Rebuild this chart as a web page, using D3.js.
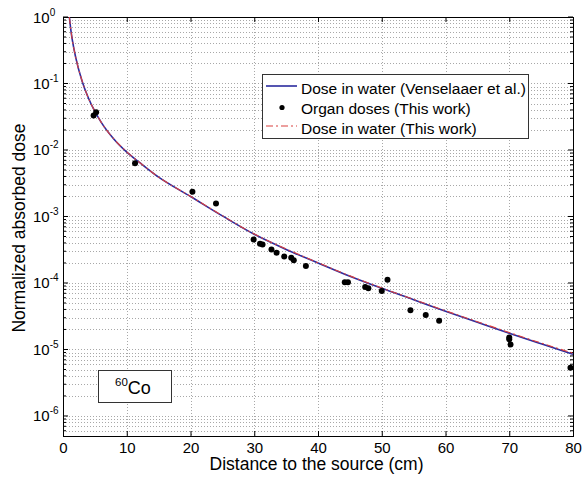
<!DOCTYPE html>
<html>
<head>
<meta charset="utf-8">
<script src="https://cdn.jsdelivr.net/npm/d3@7"></script>
<style>
  body { margin: 0; background: #fff; }
  text { font-family: "Liberation Sans", Arial, sans-serif; fill: #000; }
</style>
</head>
<body>
<div id="chart"></div>
<script>
// distance (cm) where the water curves were read
const curveX = [1, 1.25, 1.5, 2, 3, 4, 5, 6, 8, 10, 12, 15, 20, 25, 30, 35, 40, 45, 50, 55, 60, 65, 70, 75, 80];
const doseVenselaar = [1.0, 0.62, 0.43, 0.245, 0.108, 0.06, 0.038, 0.026, 0.0145, 0.0093, 0.0065, 0.0039, 0.0020,
  0.00102, 0.00054, 0.00032, 0.0002, 0.000126, 0.000083, 0.000056, 0.0000376, 0.0000257, 0.0000176, 0.0000122, 0.0000085];
const doseThisWork = [1.0, 0.62, 0.43, 0.246, 0.109, 0.06, 0.0382, 0.026, 0.0146, 0.0094, 0.0065, 0.0039, 0.00201,
  0.00103, 0.000545, 0.000325, 0.000202, 0.000128, 0.000084, 0.0000568, 0.0000382, 0.0000262, 0.000018, 0.0000125, 0.0000088];

// organ doses (scatter)
const organX = [4.8, 5.2, 11.3, 20.3, 24.0, 29.9, 30.9, 31.3, 32.7, 33.5, 34.7, 35.8, 36.2, 38.1,
  44.2, 44.7, 47.4, 47.9, 50.0, 50.9, 54.5, 56.9, 59.0, 70.0, 70.0, 70.2, 79.6];
const organY = [0.033, 0.037, 0.0063, 0.00235, 0.00157, 0.00045, 0.00039, 0.00038, 0.00032, 0.000285, 0.00025,
  0.00024, 0.00022, 0.00018, 0.000103, 0.000103, 0.000087, 0.000083, 0.000076, 0.000112, 0.000039, 0.000033,
  0.000027, 0.0000152, 0.0000143, 0.0000119, 0.0000053];

const xTicks = [0, 10, 20, 30, 40, 50, 60, 70, 80];
const yExponents = [0, -1, -2, -3, -4, -5, -6];
const legendLabels = ["Dose in water (Venselaaer et al.)", "Organ doses (This work)", "Dose in water (This work)"];

const W = 582, H = 478;
const pLeft = 63, pRight = 573, pTop = 17, pBottom = 436;

const svg = d3.select("#chart").append("svg")
  .attr("width", W).attr("height", H);

svg.append("rect").attr("width", W).attr("height", H).attr("fill", "#fff");

const x = d3.scaleLinear().domain([0, 80]).range([pLeft, pRight]);
const y = d3.scaleLog().domain([5e-7, 1]).range([pBottom, pTop]);

// grid
const minorVals = [];
for (let e = -7; e <= -1; e++) {
  for (let m = 1; m <= 9; m++) {
    const v = m * Math.pow(10, e);
    if (v > 5e-7 && v < 1) minorVals.push(v);
  }
}
const grid = svg.append("g")
  .attr("stroke", "#a8a8a8")
  .attr("stroke-width", 1)
  .attr("stroke-dasharray", "1,2");

grid.selectAll("line.h").data(minorVals).enter().append("line")
  .attr("x1", pLeft).attr("x2", pRight)
  .attr("y1", d => Math.round(y(d)) + 0.5).attr("y2", d => Math.round(y(d)) + 0.5);

grid.selectAll("line.v").data(xTicks.slice(1, -1)).enter().append("line")
  .attr("y1", pTop).attr("y2", pBottom)
  .attr("x1", d => Math.round(x(d)) + 0.5).attr("x2", d => Math.round(x(d)) + 0.5);

// axes with inward ticks
svg.append("g")
  .attr("transform", `translate(0,${pBottom})`)
  .call(d3.axisBottom(x).tickValues(xTicks).tickSizeInner(-5).tickSizeOuter(0).tickPadding(6))
  .call(g => g.select(".domain").remove())
  .call(g => g.selectAll("text").style("font-size", "15px").attr("fill", "#000"));

svg.append("g")
  .attr("transform", `translate(0,${pTop})`)
  .call(d3.axisTop(x).tickValues(xTicks).tickSizeInner(-5).tickSizeOuter(0).tickFormat(""))
  .call(g => g.select(".domain").remove());

const majorY = yExponents.map(e => Math.pow(10, e));
[[pLeft, 1], [pRight, -1]].forEach(([px, dir]) => {
  const g = svg.append("g").attr("stroke", "#000");
  g.selectAll("line.maj").data(majorY).enter().append("line")
    .attr("x1", px).attr("x2", px + dir * 5)
    .attr("y1", d => y(d)).attr("y2", d => y(d));
  g.selectAll("line.min").data(minorVals.filter(v => !majorY.includes(v))).enter().append("line")
    .attr("x1", px).attr("x2", px + dir * 3)
    .attr("y1", d => y(d)).attr("y2", d => y(d));
});

// y tick labels 10^n
const yl = svg.append("g");
yExponents.forEach(e => {
  const t = yl.append("text")
    .attr("x", 33).attr("y", y(Math.pow(10, e)) + 5.5)
    .style("font-size", "15px");
  t.append("tspan").text("10");
  t.append("tspan").attr("dy", -7).style("font-size", "10px").text(e);
});

// frame
svg.append("rect")
  .attr("x", pLeft + 0.5).attr("y", pTop + 0.5)
  .attr("width", pRight - pLeft).attr("height", pBottom - pTop)
  .attr("fill", "none").attr("stroke", "#000");

// axis labels
svg.append("text")
  .attr("x", 316.5).attr("y", 470)
  .attr("text-anchor", "middle")
  .style("font-size", "17.5px")
  .text("Distance to the source (cm)");

svg.append("text")
  .attr("transform", "rotate(-90)")
  .attr("x", -228).attr("y", 25)
  .attr("text-anchor", "middle")
  .style("font-size", "17.5px")
  .text("Normalized absorbed dose");

// curves
const plot = svg.append("g");
const line = d3.line().curve(d3.curveMonotoneX);

plot.append("path")
  .datum(curveX.map((d, i) => [x(d), y(doseVenselaar[i])]))
  .attr("fill", "none").attr("stroke", "#2b2b9e").attr("stroke-width", 1.6)
  .attr("d", line);

plot.append("path")
  .datum(curveX.map((d, i) => [x(d), y(doseThisWork[i])]))
  .attr("fill", "none").attr("stroke", "#d9403f").attr("stroke-width", 1.1)
  .attr("stroke-dasharray", "7,3,2,3")
  .attr("d", line);

plot.selectAll("circle").data(organX).enter().append("circle")
  .attr("cx", (d, i) => x(d)).attr("cy", (d, i) => y(organY[i]))
  .attr("r", 3).attr("fill", "#000");

// legend
const lg = svg.append("g");
lg.append("rect")
  .attr("x", 262.5).attr("y", 74.5).attr("width", 266).attr("height", 64)
  .attr("fill", "#fff").attr("stroke", "#333");
const rowY = [86, 107.5, 126];
lg.append("line").attr("x1", 266).attr("x2", 297).attr("y1", rowY[0]).attr("y2", rowY[0])
  .attr("stroke", "#2b2b9e").attr("stroke-width", 1.6);
lg.append("circle").attr("cx", 282).attr("cy", rowY[1]).attr("r", 2.6).attr("fill", "#000");
lg.append("line").attr("x1", 266).attr("x2", 297).attr("y1", rowY[2]).attr("y2", rowY[2])
  .attr("stroke", "#d9403f").attr("stroke-width", 1.1).attr("stroke-dasharray", "7,3,2,3");
legendLabels.forEach((s, i) => {
  lg.append("text").attr("x", 301).attr("y", [93.5, 114, 134][i])
    .style("font-size", "15.5px").text(s);
});

// isotope label
svg.append("rect")
  .attr("x", 98.5).attr("y", 370.5).attr("width", 73).attr("height", 32)
  .attr("fill", "#fff").attr("stroke", "#333");
const iso = svg.append("text").attr("x", 115).attr("y", 394).style("font-size", "18px");
iso.append("tspan").attr("dy", -8).style("font-size", "11.5px").text("60");
iso.append("tspan").attr("dy", 8).text("Co");
</script>
</body>
</html>
